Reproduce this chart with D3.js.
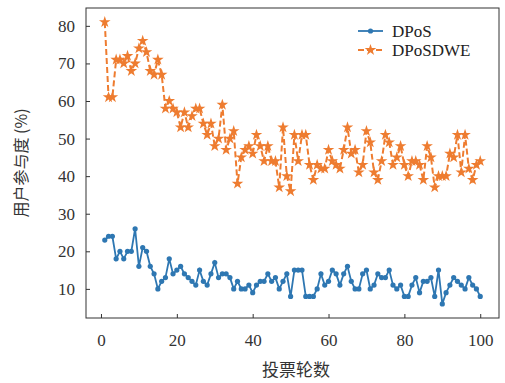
<!DOCTYPE html>
<html><head><meta charset="utf-8">
<script src="https://cdn.jsdelivr.net/npm/d3@7"></script>
<style>body{margin:0;background:#fff}svg{display:block}</style>
</head><body><svg id="c" width="505" height="383"></svg>
<script>
const rounds = d3.range(1, 101);
const dposValues = [23,24,24,18,20,18,20,20,26,16,21,20,16,14,10,12,13,18,14,15,
  16,14,13,12,11,15,12,11,14,17,13,14,14,13,10,12,10,10,11,9,
  11,12,12,14,12,13,10,12,14,8,15,15,15,8,8,8,10,14,11,12,
  15,14,11,14,16,12,10,10,14,15,10,11,14,13,13,15,11,10,11,8,
  8,11,13,9,12,12,13,8,15,6,9,11,13,12,11,10,13,11,10,8];
const dposdweValues = [81,61,61,71,71,70,72,68,70,74,76,73,68,67,71,67,58,60,58,57,
  53,57,53,56,58,58,54,51,54,48,50,59,47,50,52,38,45,47,48,46,
  51,48,44,48,44,44,37,53,40,36,51,44,51,51,43,39,43,42,42,47,
  44,43,42,47,53,46,47,41,43,52,49,41,39,44,51,49,43,45,48,43,
  40,44,44,43,39,48,45,37,40,40,40,46,45,51,41,51,42,39,43,44];
const seriesNames = ["DPoS", "DPoSDWE"];
const yTicks = [10,20,30,40,50,60,70,80];
const xTicks = [0,20,40,60,80,100];
const yLabel = "用户参与度 (%)";
const xLabel = "投票轮数";

const svg = d3.select("#c");
const L = 86, R = 499, T = 8, B = 318;
const x = d3.scaleLinear().domain([-3.95, 104.95]).range([L, R]);
const y = d3.scaleLinear().domain([2.25, 84.75]).range([B, T]);
const font = "'Liberation Serif','Times New Roman',serif";
const blue = "#2e77b2", orange = "#ee7c30";

svg.append("rect").attr("x", L).attr("y", T).attr("width", R - L).attr("height", B - T)
  .attr("fill", "none").attr("stroke", "#333").attr("stroke-width", 1);

const yAxis = d3.axisLeft(y).tickValues(yTicks).tickSizeInner(-4).tickSizeOuter(0).tickPadding(11);
const gy = svg.append("g").attr("transform", `translate(${L},0)`).call(yAxis);
gy.select(".domain").remove();
gy.selectAll("line").attr("stroke", "#333");
gy.selectAll("text").attr("font-family", font).attr("font-size", 17).attr("fill", "#333");

const xAxis = d3.axisBottom(x).tickValues(xTicks).tickSizeInner(-4).tickSizeOuter(0).tickPadding(16);
const gx = svg.append("g").attr("transform", `translate(0,${B})`).call(xAxis);
gx.select(".domain").remove();
gx.selectAll("line").attr("stroke", "#333");
gx.selectAll("text").attr("font-family", font).attr("font-size", 17).attr("fill", "#333");

svg.append("text").attr("transform", `translate(27,${(T + B) / 2}) rotate(-90)`)
  .attr("text-anchor", "middle").attr("font-family", "'Noto Sans CJK SC',sans-serif")
  .attr("font-size", 16).attr("fill", "#333").text(yLabel);
svg.append("text").attr("x", 296).attr("y", 376)
  .attr("text-anchor", "middle").attr("font-family", "'Noto Sans CJK SC',sans-serif")
  .attr("font-size", 17).attr("fill", "#333").text(xLabel);

const line = d3.line().x((d, i) => x(rounds[i])).y(d => y(d));
const star = d3.symbol().type(d3.symbolStar).size(42);

svg.append("path").datum(dposValues).attr("d", line).attr("fill", "none")
  .attr("stroke", blue).attr("stroke-width", 1.8);
svg.append("g").selectAll("circle").data(dposValues).join("circle")
  .attr("cx", (d, i) => x(rounds[i])).attr("cy", d => y(d)).attr("r", 2.6).attr("fill", blue);

svg.append("path").datum(dposdweValues).attr("d", line).attr("fill", "none")
  .attr("stroke", orange).attr("stroke-width", 2).attr("stroke-dasharray", "6,3");
svg.append("g").selectAll("path").data(dposdweValues).join("path")
  .attr("transform", (d, i) => `translate(${x(rounds[i])},${y(d)})`).attr("d", star).attr("fill", orange);

const lg = svg.append("g");
const ly = [31, 50];
lg.append("line").attr("x1", 358).attr("x2", 383).attr("y1", ly[0]).attr("y2", ly[0]).attr("stroke", blue).attr("stroke-width", 1.8);
lg.append("circle").attr("cx", 370.5).attr("cy", ly[0]).attr("r", 2.6).attr("fill", blue);
lg.append("line").attr("x1", 358).attr("x2", 383).attr("y1", ly[1]).attr("y2", ly[1]).attr("stroke", orange).attr("stroke-width", 2).attr("stroke-dasharray", "6,3");
lg.append("path").attr("transform", `translate(370.5,${ly[1]})`).attr("d", star).attr("fill", orange);
seriesNames.forEach((n, i) => {
  lg.append("text").attr("x", 392).attr("y", ly[i] + 5.5).attr("font-family", font)
    .attr("font-size", 17).attr("fill", "#222").text(n);
});
</script></body></html>
